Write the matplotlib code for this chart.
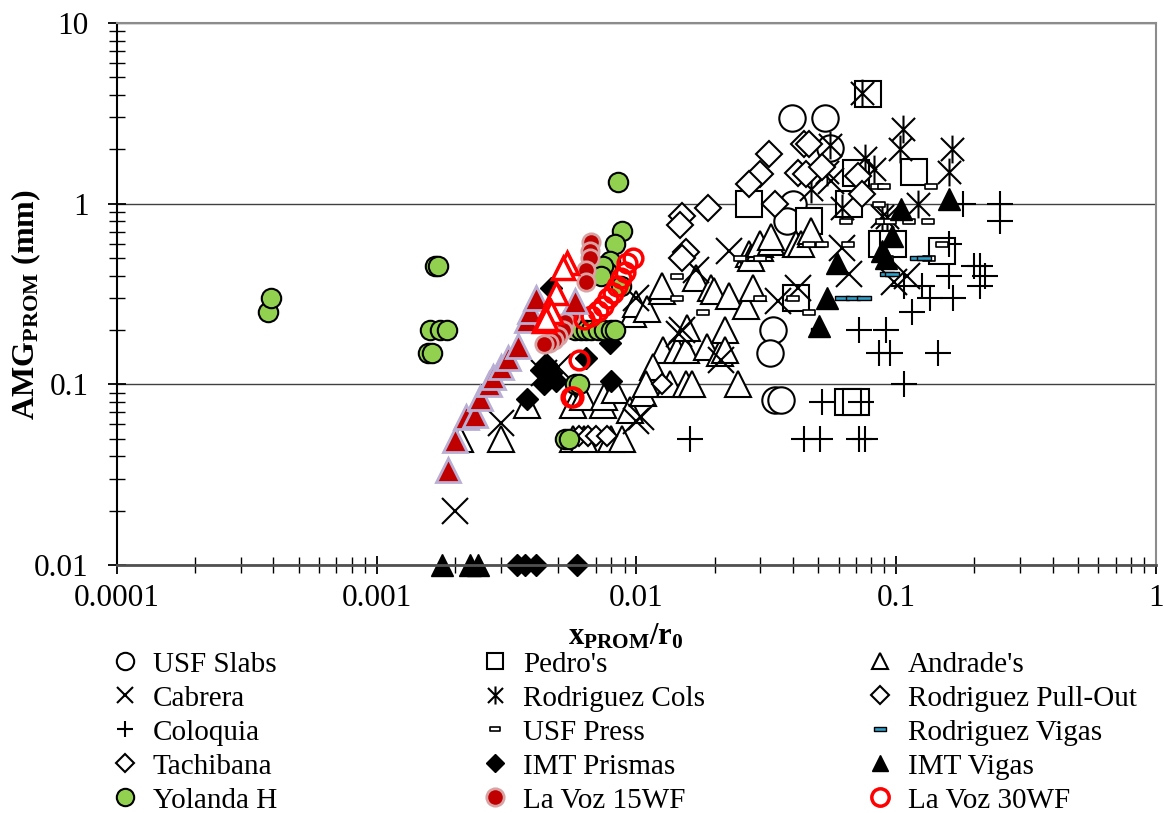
"""Scatter of AMG_PROM against x_PROM/r0 for the compiled test series (log-log)."""

import matplotlib.pyplot as plt
from matplotlib.lines import Line2D
from matplotlib.path import Path

plt.rcParams["font.family"] = ["Liberation Serif", "DejaVu Serif"]
plt.rcParams["mathtext.fontset"] = "custom"
plt.rcParams["mathtext.rm"] = "Liberation Serif"
plt.rcParams["mathtext.bf"] = "Liberation Serif:bold"
plt.rcParams["mathtext.it"] = "Liberation Serif:italic"

# ---- data ----
usf_slabs_x = [0.0398, 0.0533, 0.0557, 0.040, 0.038, 0.0334, 0.0327, 0.0341, 0.036]
usf_slabs_y = [2.99, 2.99, 2.04, 1.0, 0.80, 0.20, 0.15, 0.082, 0.082]

pedro_x = [0.078, 0.117, 0.027, 0.046, 0.066, 0.070, 0.088, 0.097, 0.15, 0.041, 0.065, 0.070]
pedro_y = [4.05, 1.50, 1.0, 0.80, 1.0, 1.48, 0.60, 0.60, 0.55, 0.30, 0.08, 0.08]

andrade_x = [0.0021, 0.0030, 0.0038, 0.0057, 0.0063, 0.0080, 0.0057, 0.0062, 0.0074, 0.0075,
             0.0083, 0.0088, 0.0094, 0.0106, 0.0097, 0.0100, 0.0110, 0.0125, 0.0125, 0.0126,
             0.0116, 0.0109, 0.0134, 0.0143, 0.0155, 0.0155, 0.0157, 0.0163, 0.0170, 0.0187,
             0.0194, 0.0199, 0.0210, 0.0219, 0.0219, 0.0228, 0.0245, 0.0265, 0.0272, 0.0276,
             0.0280, 0.0300, 0.0300, 0.0330, 0.0330, 0.0410, 0.0430, 0.0470, 0.0470]
andrade_y = [0.050, 0.050, 0.077, 0.050, 0.050, 0.050, 0.077, 0.085, 0.077, 0.085,
             0.093, 0.050, 0.072, 0.090, 0.245, 0.280, 0.260, 0.330, 0.350, 0.154,
             0.125, 0.100, 0.100, 0.154, 0.100, 0.154, 0.205, 0.100, 0.390, 0.160,
             0.340, 0.330, 0.150, 0.200, 0.154, 0.310, 0.100, 0.270, 0.530, 0.500,
             0.340, 0.570, 0.600, 0.610, 0.650, 0.600, 0.600, 0.680, 0.710]

cabrera_x = [0.0020, 0.0030, 0.0100, 0.0104, 0.0100, 0.0150, 0.0146, 0.0170, 0.0212,
             0.0228, 0.035, 0.042, 0.056, 0.062, 0.066, 0.098, 0.110, 0.0044, 0.0050]
cabrera_y = [0.020, 0.061, 0.063, 0.066, 0.30, 0.20, 0.19, 0.43, 0.136,
             0.55, 0.29, 0.34, 1.34, 0.57, 0.41, 0.37, 0.40, 0.115, 0.125]

rod_cols_x = [0.074, 0.106, 0.103, 0.164, 0.160, 0.076, 0.082, 0.121, 0.092,
              0.0557, 0.054, 0.047, 0.062, 0.088]
rod_cols_y = [4.1, 2.6, 2.0, 2.0, 1.5, 1.8, 1.55, 1.0, 0.84,
              2.1, 1.5, 1.2, 0.95, 0.85]

rod_pull_x = [0.0325, 0.030, 0.0272, 0.044, 0.046, 0.042, 0.045, 0.034, 0.0188,
              0.015, 0.0147, 0.0155, 0.015, 0.071, 0.074, 0.052]
rod_pull_y = [1.89, 1.46, 1.29, 2.14, 2.14, 1.48, 1.46, 1.0, 0.95,
              0.86, 0.76, 0.54, 0.50, 1.43, 1.13, 1.6]

coloquia_x = [0.18, 0.25, 0.25, 0.16, 0.16, 0.20, 0.21, 0.22, 0.21, 0.107, 0.126, 0.135,
              0.165, 0.115, 0.072, 0.091, 0.086, 0.095, 0.145, 0.107, 0.052, 0.073,
              0.016, 0.044, 0.051, 0.072, 0.076]
coloquia_y = [1.0, 1.0, 0.80, 0.60, 0.40, 0.45, 0.45, 0.40, 0.35, 0.35, 0.35, 0.30,
              0.30, 0.25, 0.20, 0.20, 0.15, 0.15, 0.15, 0.10, 0.08, 0.08,
              0.05, 0.05, 0.05, 0.05, 0.05]

usf_press_x = [0.084, 0.090, 0.136, 0.086, 0.088, 0.095, 0.112, 0.133, 0.052, 0.065,
               0.046, 0.15, 0.134, 0.092, 0.025, 0.030, 0.0143, 0.0143, 0.018, 0.030,
               0.040, 0.046, 0.064]
usf_press_y = [1.25, 1.25, 1.25, 1.0, 0.8, 0.8, 0.8, 0.8, 0.6, 0.6,
               0.6, 0.6, 0.5, 0.5, 0.5, 0.5, 0.40, 0.30, 0.25, 0.30,
               0.30, 0.25, 0.8]

rod_vigas_x = [0.062, 0.068, 0.075, 0.092, 0.096, 0.12, 0.128, 0.050]
rod_vigas_y = [0.30, 0.30, 0.30, 0.41, 0.41, 0.50, 0.50, 0.20]

tachibana_x = [0.0060, 0.0065, 0.0070, 0.0077, 0.0125]
tachibana_y = [0.052, 0.052, 0.052, 0.052, 0.10]

imt_prismas_x = [0.00348, 0.00371, 0.00410, 0.00592, 0.0038, 0.0045, 0.0047, 0.0049,
                 0.0043, 0.0064, 0.0079, 0.0080, 0.0047, 0.0044]
imt_prismas_y = [0.01, 0.01, 0.01, 0.01, 0.083, 0.13, 0.115, 0.105,
                 0.12, 0.14, 0.17, 0.105, 0.34, 0.10]

imt_vigas_x = [0.00178, 0.00228, 0.00245, 0.160, 0.104, 0.096, 0.088, 0.091, 0.059, 0.054, 0.0505]
imt_vigas_y = [0.01, 0.01, 0.01, 1.06, 0.94, 0.665, 0.55, 0.50, 0.472, 0.30, 0.21]

yolanda_x = [0.00038, 0.00039, 0.00167, 0.00172, 0.0016, 0.00175, 0.00187, 0.00158, 0.00163,
             0.0085, 0.0088, 0.0083, 0.0079, 0.0077, 0.0087, 0.0074, 0.0073,
             0.0058, 0.0061, 0.0064, 0.0067, 0.0071, 0.0075, 0.0080, 0.0083,
             0.0058, 0.0060, 0.0053, 0.0055]
yolanda_y = [0.25, 0.30, 0.45, 0.45, 0.20, 0.20, 0.20, 0.15, 0.15,
             1.31, 0.71, 0.60, 0.48, 0.42, 0.35, 0.45, 0.40,
             0.20, 0.20, 0.20, 0.20, 0.20, 0.20, 0.20, 0.20,
             0.10, 0.10, 0.05, 0.05]

lavoz15_x = [0.0067, 0.0066, 0.0066, 0.0064, 0.0064, 0.0056, 0.0053, 0.0052, 0.0050,
             0.0048, 0.0046, 0.0044]
lavoz15_y = [0.61, 0.55, 0.50, 0.43, 0.37, 0.24, 0.22, 0.20, 0.185, 0.175, 0.17, 0.168]

lavoz30_x = [0.0097, 0.0092, 0.0090, 0.0087, 0.0084, 0.0081, 0.0078, 0.0074, 0.0071,
             0.0067, 0.0063, 0.0060, 0.0056, 0.0057]
lavoz30_y = [0.50, 0.47, 0.42, 0.39, 0.35, 0.32, 0.30, 0.27, 0.256, 0.24, 0.23, 0.136,
             0.085, 0.085]

# two further series in the chart that the legend does not list
red_tri_x = [0.00188, 0.0020, 0.0022, 0.0024, 0.0025, 0.0027, 0.0028, 0.0030, 0.0032,
             0.0035, 0.0038, 0.0039, 0.0041, 0.0058]
red_tri_y = [0.0335, 0.049, 0.066, 0.068, 0.084, 0.10, 0.11, 0.124, 0.14,
             0.164, 0.226, 0.256, 0.30, 0.29]

red_open_tri_x = [0.0054, 0.0052, 0.0049, 0.0046, 0.0044, 0.0047, 0.0045]
red_open_tri_y = [0.47, 0.44, 0.32, 0.26, 0.225, 0.25, 0.23]

# ---- custom marker shapes ----
STAR = Path([(-1, -1), (1, 1), (-1, 1), (1, -1), (0, -1.2), (0, 1.2)],
            [Path.MOVETO, Path.LINETO, Path.MOVETO, Path.LINETO, Path.MOVETO, Path.LINETO])
RECT = Path([(-1, -0.4), (1, -0.4), (1, 0.4), (-1, 0.4), (-1, -0.4)],
            [Path.MOVETO, Path.LINETO, Path.LINETO, Path.LINETO, Path.CLOSEPOLY])
DASH = Path([(-1, -0.3), (1, -0.3), (1, 0.3), (-1, 0.3), (-1, -0.3)],
            [Path.MOVETO, Path.LINETO, Path.LINETO, Path.LINETO, Path.CLOSEPOLY])

GREEN = "#92D050"
DARK_RED = "#C00000"

# (x, y, label, plot style, legend style)
series = [
    (usf_slabs_x, usf_slabs_y, "USF Slabs",
     dict(marker="o", ms=19, mfc="white", mec="black", mew=1.5), dict(ms=12.5)),
    (pedro_x, pedro_y, "Pedro's",
     dict(marker="s", ms=19, mfc="white", mec="black", mew=1.5), dict(ms=12)),
    (andrade_x, andrade_y, "Andrade's",
     dict(marker="^", ms=19, mfc="white", mec="black", mew=1.5), dict(ms=12)),
    (cabrera_x, cabrera_y, "Cabrera",
     dict(marker="x", ms=19, mec="black", mew=1.5), dict(ms=12)),
    (rod_cols_x, rod_cols_y, "Rodriguez Cols",
     dict(marker=STAR, ms=20, mfc="none", mec="black", mew=1.5), dict(ms=13)),
    (rod_pull_x, rod_pull_y, "Rodriguez Pull-Out",
     dict(marker="D", ms=13.5, mfc="white", mec="black", mew=1.5), dict(ms=9)),
    (coloquia_x, coloquia_y, "Coloquia",
     dict(marker="+", ms=19, mec="black", mew=1.5), dict(ms=12)),
    (usf_press_x, usf_press_y, "USF Press",
     dict(marker=RECT, ms=9, mfc="white", mec="black", mew=1.2), dict(ms=7)),
    (rod_vigas_x, rod_vigas_y, "Rodriguez Vigas",
     dict(marker=DASH, ms=10, mfc="#2E9FC9", mec="black", mew=1.0), dict(ms=8)),
    (tachibana_x, tachibana_y, "Tachibana",
     dict(marker="D", ms=10, mfc="white", mec="black", mew=1.5), dict(ms=9)),
    (imt_prismas_x, imt_prismas_y, "IMT Prismas",
     dict(marker="D", ms=11, mfc="black", mec="black", mew=1.0), dict(ms=9)),
    (imt_vigas_x, imt_vigas_y, "IMT Vigas",
     dict(marker="^", ms=16, mfc="black", mec="black", mew=1.0), dict(ms=12)),
    (yolanda_x, yolanda_y, "Yolanda H",
     dict(marker="o", ms=14, mfc=GREEN, mec="black", mew=1.5), dict(ms=12.5)),
    (lavoz15_x, lavoz15_y, "La Voz 15WF",
     dict(marker="o", ms=12.5, mfc=DARK_RED, mec="#D9A3A3", mew=2.0), dict(ms=12.5)),
    (lavoz30_x, lavoz30_y, "La Voz 30WF",
     dict(marker="o", ms=13.5, mfc="none", mec="#FF0000", mew=2.5), dict(ms=12.5)),
    (red_tri_x, red_tri_y, None,
     dict(marker="^", ms=17, mfc=DARK_RED, mec="#B9AED3", mew=2.0), None),
    (red_open_tri_x, red_open_tri_y, None,
     dict(marker="^", ms=16, mfc="white", mec="#FF0000", mew=2.5), None),
]

fig = plt.figure(figsize=(11.65, 8.13), dpi=100)
ax = fig.add_axes([0.1004, 0.305, 0.8919, 0.6667])

handles = {}
for x, y, label, style, leg_style in series:
    ax.plot(x, y, ls="none", clip_on=False, **style)
    if label:
        proxy = dict(style)
        proxy.update(leg_style)
        handles[label] = Line2D([], [], ls="none", **proxy)

ax.set_xscale("log")
ax.set_yscale("log")
ax.set_xlim(1e-4, 1)
ax.set_ylim(0.01, 10)

ax.set_xticks([1e-4, 1e-3, 1e-2, 1e-1, 1], ["0.0001", "0.001", "0.01", "0.1", "1"])
ax.set_yticks([0.01, 0.1, 1, 10], ["0.01", "0.1", "1", "10"])
ax.tick_params(which="both", direction="inout", labelsize=22.5, color="black")
ax.tick_params(which="major", length=13, width=1.3)
ax.tick_params(which="minor", length=12, width=1.0)
ax.tick_params(axis="x", which="both", pad=7)
ax.tick_params(axis="y", which="both", pad=14)

ax.grid(which="major", axis="y", color="#404040", lw=1.0)
ax.set_axisbelow(True)
for side in ("top", "right"):
    ax.spines[side].set_color("#8C8C8C")
    ax.spines[side].set_linewidth(1.5)
ax.spines["left"].set_color("black")
ax.spines["left"].set_linewidth(1.5)
ax.spines["bottom"].set_color("#505050")
ax.spines["bottom"].set_linewidth(2.0)

ax.set_xlabel(r"$\mathbf{x_{PROM}/r_{0}}$", fontsize=22)
ax.xaxis.set_label_coords(0.49, -0.105)
ax.xaxis.label.set_va("top")
ax.set_ylabel(r"$\mathbf{AMG_{PROM}}$ (mm)", fontsize=23, fontweight="bold")
ax.yaxis.set_label_coords(-0.071, 0.48)

# legend: three columns, read row by row
columns = [
    ["USF Slabs", "Cabrera", "Coloquia", "Tachibana", "Yolanda H"],
    ["Pedro's", "Rodriguez Cols", "USF Press", "IMT Prismas", "La Voz 15WF"],
    ["Andrade's", "Rodriguez Pull-Out", "Rodriguez Vigas", "IMT Vigas", "La Voz 30WF"],
]
col_left = [0.0948, 0.4124, 0.743]
for labels, x0 in zip(columns, col_left):
    fig.legend([handles[k] for k in labels], labels, loc="upper left",
               bbox_to_anchor=(x0, 0.199), frameon=False, fontsize=21,
               handlelength=1.0, handletextpad=0.45, labelspacing=0.26,
               borderpad=0, borderaxespad=0)

fig.savefig("out.png", dpi=100)
